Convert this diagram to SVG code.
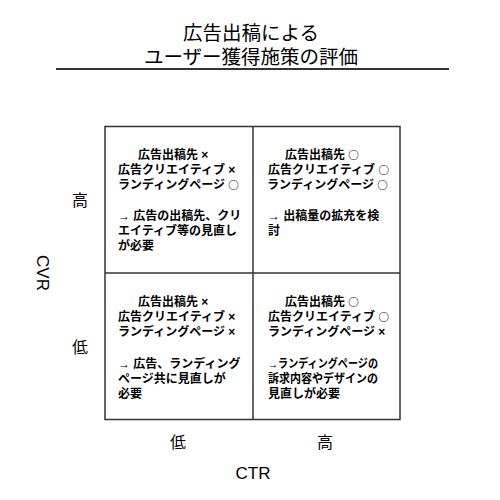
<svg xmlns="http://www.w3.org/2000/svg" width="500" height="500" viewBox="0 0 500 500">
<style>
text{font-family:"Liberation Sans","Noto Sans CJK JP",sans-serif;fill:#000}
.title{font-size:19.5px;text-anchor:middle}
.l{font-size:12px;font-weight:bold}
.o{font-family:"Noto Sans CJK JP",sans-serif;font-weight:bold;font-size:10.5px}
.ax{font-size:16px;text-anchor:middle}
.axl{font-size:17px;text-anchor:middle}
.box{fill:none;stroke:#333;stroke-width:1.5}
</style>
<rect width="500" height="500" fill="#fff"/>
<g id="title">
<text class="title" x="251" y="40">広告出稿による</text>
<text class="title" x="251" y="64">ユーザー獲得施策の評価</text>
<line x1="56" y1="69" x2="449" y2="69" stroke="#333" stroke-width="2"/>
</g>
<g id="grid">
<rect class="box" x="105" y="126.5" width="295" height="293"/>
<line class="box" x1="253" y1="126.5" x2="253" y2="419.5"/>
<line class="box" x1="105" y1="273" x2="400" y2="273"/>
</g>
<g id="cell-tl">
<text class="l" x="138" y="159">広告出稿先 ×</text>
<text class="l" x="118" y="174">広告クリエイティブ ×</text>
<text class="l" x="118" y="189">ランディングページ <tspan class="o">○</tspan></text>
<text class="l" x="118" y="220">→ 広告の出稿先、クリ</text>
<text class="l" x="118" y="235">エイティブ等の見直し</text>
<text class="l" x="118" y="250">が必要</text>
</g>
<g id="cell-tr">
<text class="l" x="285" y="159">広告出稿先 <tspan class="o">○</tspan></text>
<text class="l" x="268" y="174">広告クリエイティブ <tspan class="o">○</tspan></text>
<text class="l" x="267" y="189">ランディングページ <tspan class="o">○</tspan></text>
<text class="l" x="268" y="220">→ 出稿量の拡充を検</text>
<text class="l" x="268" y="235">討</text>
</g>
<g id="cell-bl">
<text class="l" x="138" y="306">広告出稿先 ×</text>
<text class="l" x="118" y="321">広告クリエイティブ ×</text>
<text class="l" x="118" y="336">ランディングページ ×</text>
<text class="l" x="118" y="368">→ 広告、ランディング</text>
<text class="l" x="118" y="383">ページ共に見直しが</text>
<text class="l" x="118" y="398">必要</text>
</g>
<g id="cell-br">
<text class="l" x="285" y="306">広告出稿先 <tspan class="o">○</tspan></text>
<text class="l" x="268" y="321">広告クリエイティブ <tspan class="o">○</tspan></text>
<text class="l" x="268" y="336">ランディングページ ×</text>
<text class="l" x="268" y="368" textLength="110" lengthAdjust="spacingAndGlyphs">→ランディングページの</text>
<text class="l" x="268" y="383" textLength="110" lengthAdjust="spacingAndGlyphs">訴求内容やデザインの</text>
<text class="l" x="268" y="398">見直しが必要</text>
</g>
<g id="axes">
<text class="ax" x="80" y="206">高</text>
<text class="ax" x="80" y="353">低</text>
<text class="axl" transform="translate(37,273) rotate(90)" x="0" y="0">CVR</text>
<text class="ax" x="178" y="448">低</text>
<text class="ax" x="325" y="448">高</text>
<text class="axl" x="253" y="479">CTR</text>
</g>
</svg>
